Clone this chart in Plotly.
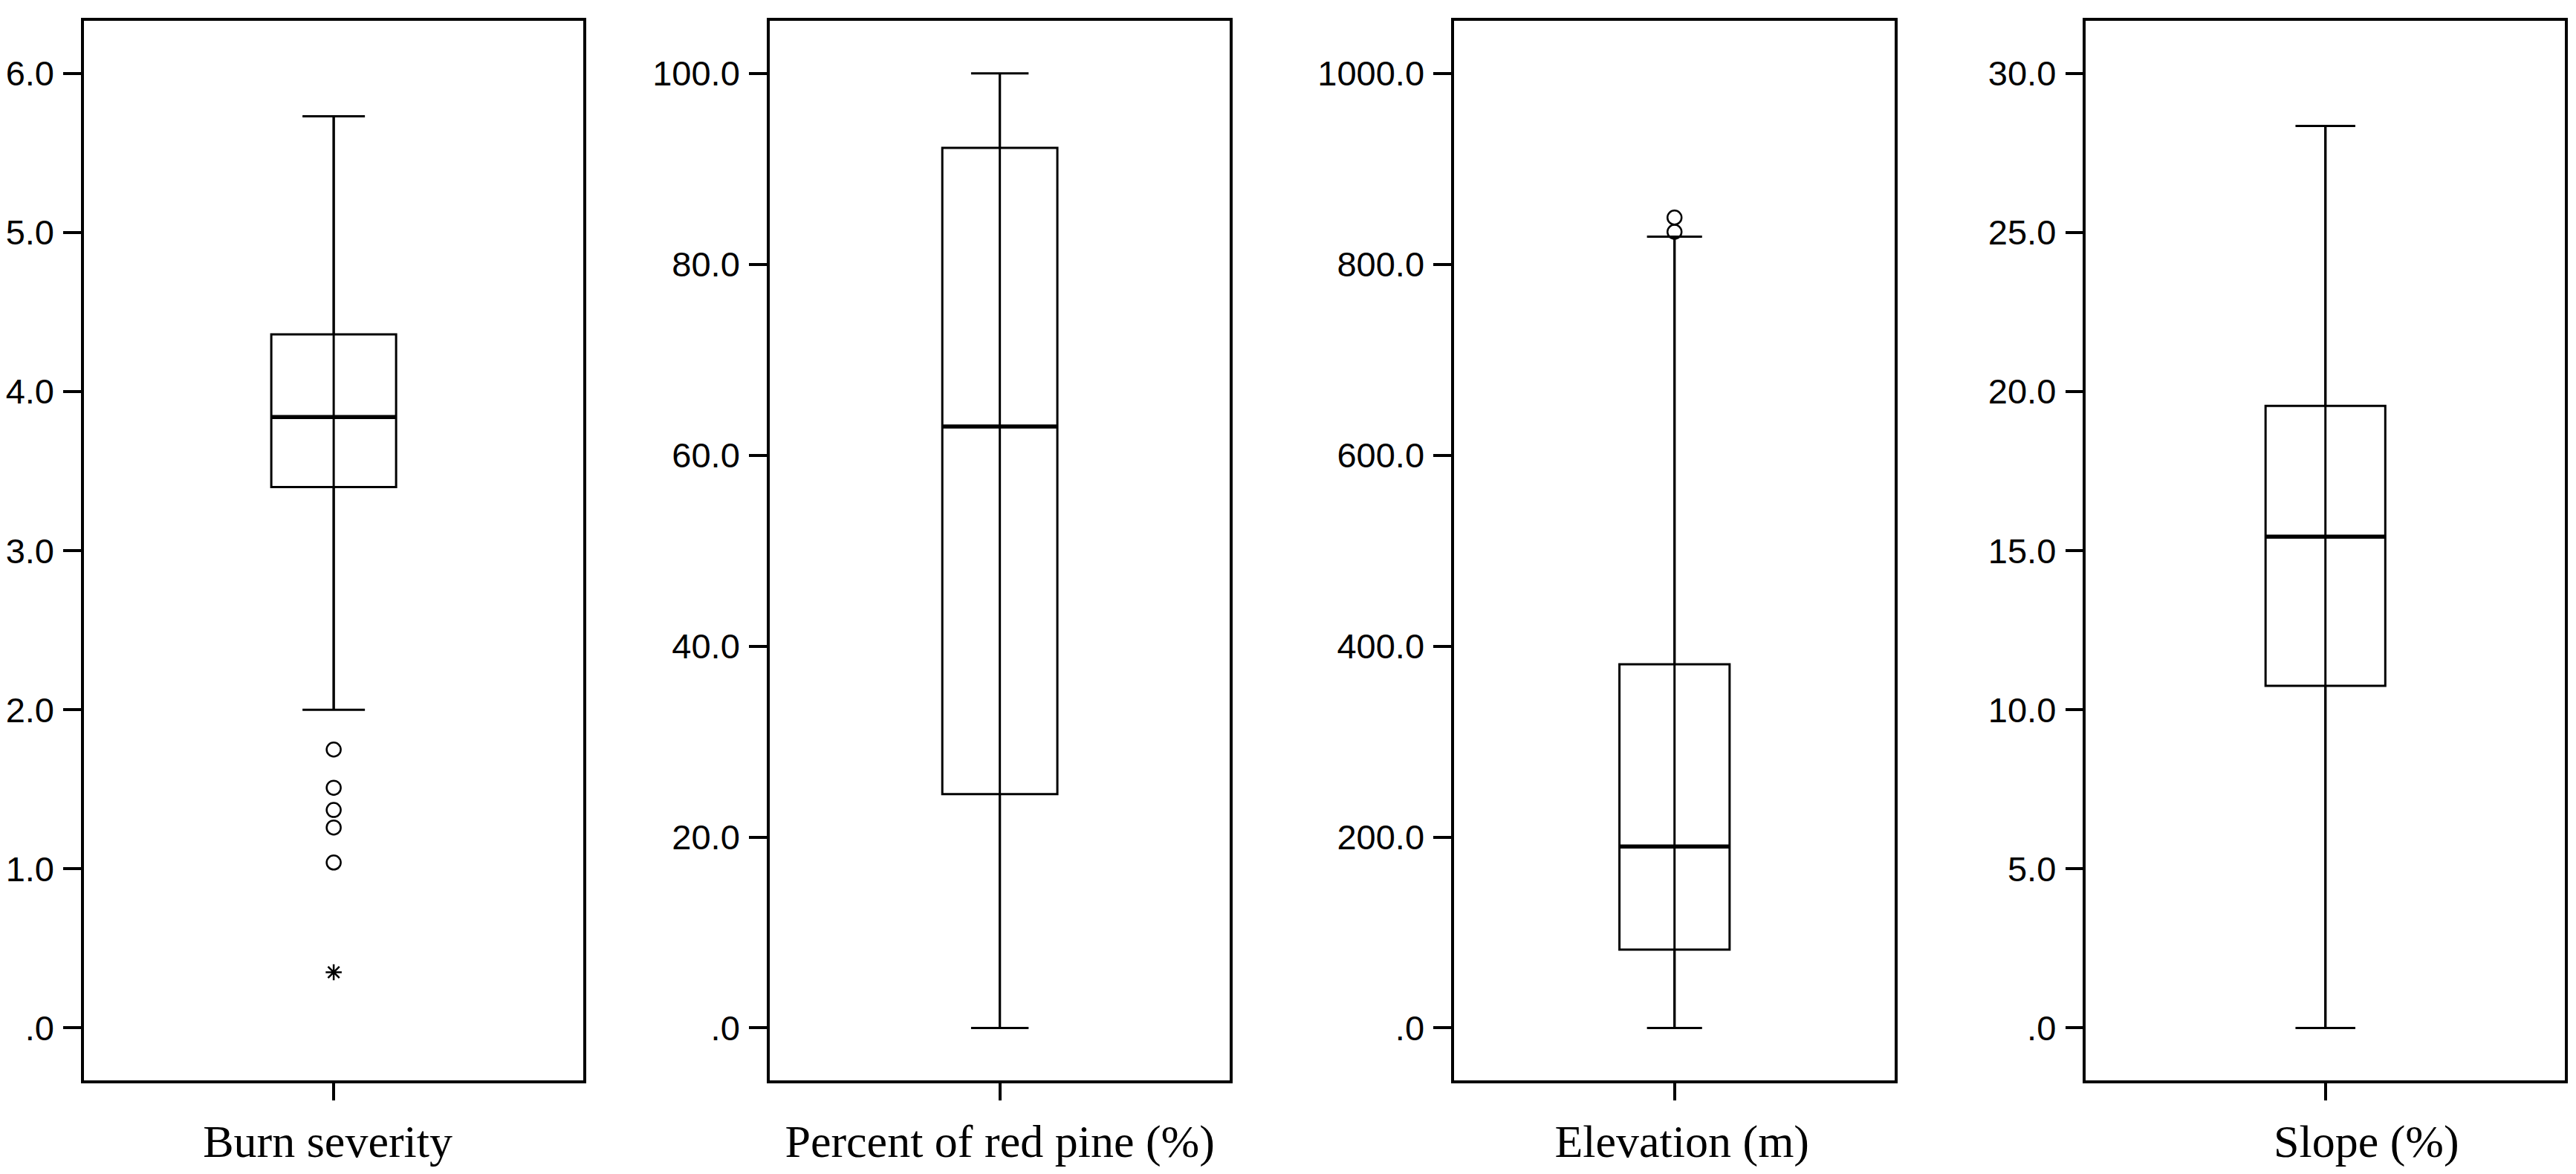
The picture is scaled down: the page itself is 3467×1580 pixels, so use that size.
import plotly.graph_objects as go

# ---- data ----
variables = ["Burn severity", "Percent of red pine (%)", "Elevation (m)", "Slope (%)"]
lower_whisker = [2.0, 0.0, 0.0, 0.0]
q1 = [3.40, 24.5, 82.0, 10.75]
median = [3.84, 63.0, 190.0, 15.44]
q3 = [4.36, 92.2, 381.0, 19.55]
upper_whisker = [5.73, 100.0, 829.0, 28.35]
outliers = [[1.75, 1.51, 1.37, 1.26, 1.04], [], [849.0, 834.0], []]
extremes = [[0.35], [], [], []]

tick_vals = [
    [0, 1, 2, 3, 4, 5, 6],
    [0, 20, 40, 60, 80, 100],
    [0, 200, 400, 600, 800, 1000],
    [0, 5, 10, 15, 20, 25, 30],
]
tick_text = [
    [".0", "1.0", "2.0", "3.0", "4.0", "5.0", "6.0"],
    [".0", "20.0", "40.0", "60.0", "80.0", "100.0"],
    [".0", "200.0", "400.0", "600.0", "800.0", "1000.0"],
    [".0", "5.0", "10.0", "15.0", "20.0", "25.0", "30.0"],
]

# ---- layout constants ----
W, H = 3451, 1564   # page is 3467x1580 incl. 8px body margin
DX = -4 / W
x_domains = [(0.02796 + DX, 0.22341 + DX), (0.29638 + DX, 0.47653 + DX),
             (0.56433 + DX, 0.73683 + DX), (0.81165 + DX, 0.99913 + DX)]
y_domain = (0.07545, 0.98708)
label_shift = [-8, 0, 10, 55]
BOX_W = 0.25
LINE = 3
AXLINE = 3.5

fig = go.Figure()
layout = dict(
    width=W, height=H,
    margin=dict(l=0, r=0, t=0, b=0),
    paper_bgcolor="white", plot_bgcolor="white",
    showlegend=False,
)

for i, name in enumerate(variables):
    n = "" if i == 0 else str(i + 1)
    xa, ya = "x" + n, "y" + n
    # whisker line running through the box
    fig.add_trace(go.Scatter(
        x=[name, name], y=[lower_whisker[i], upper_whisker[i]], mode="lines",
        line=dict(color="black", width=LINE),
        xaxis=xa, yaxis=ya, hoverinfo="skip",
    ))
    fig.add_trace(go.Box(
        x=[name], q1=[q1[i]], median=[median[i]], q3=[q3[i]],
        lowerfence=[lower_whisker[i]], upperfence=[upper_whisker[i]],
        width=BOX_W, whiskerwidth=0.5, boxpoints=False,
        fillcolor="rgba(255,255,255,0)", line=dict(color="black", width=LINE),
        xaxis=xa, yaxis=ya, hoverinfo="skip",
    ))
    # thicker median line
    px_w = BOX_W * (x_domains[i][1] - x_domains[i][0]) * W
    fig.add_trace(go.Scatter(
        x=[name], y=[median[i]], mode="markers",
        marker=dict(symbol="line-ew", size=px_w / 1.4, color="black",
                    line=dict(color="black", width=5.5)),
        xaxis=xa, yaxis=ya, hoverinfo="skip",
    ))
    if outliers[i]:
        fig.add_trace(go.Scatter(
            x=[name] * len(outliers[i]), y=outliers[i], mode="markers",
            marker=dict(symbol="circle-open", size=19, color="black",
                        line=dict(color="black", width=2.5)),
            xaxis=xa, yaxis=ya, hoverinfo="skip",
        ))
    if extremes[i]:
        fig.add_trace(go.Scatter(
            x=[name] * len(extremes[i]), y=extremes[i], mode="markers",
            marker=dict(symbol="asterisk-open", size=18, color="black",
                        line=dict(color="black", width=2.5)),
            xaxis=xa, yaxis=ya, hoverinfo="skip",
        ))

    top = tick_vals[i][-1]
    pad = 0.0549 * top
    layout["xaxis" + n] = dict(
        domain=list(x_domains[i]), anchor=ya, type="category",
        range=[-0.5, 0.5], tickvals=[name], ticktext=[name],
        ticks="outside", ticklen=23, tickwidth=4, tickcolor="black",
        showline=True, mirror=True, linecolor="black", linewidth=AXLINE,
        showgrid=False, zeroline=False, fixedrange=True,
        tickfont=dict(family="Liberation Serif", size=62, color="black"),
        ticklabelshift=label_shift[i], ticklabelstandoff=2,
    )
    layout["yaxis" + n] = dict(
        domain=list(y_domain), anchor=xa,
        range=[-pad, top + pad], tickvals=tick_vals[i], ticktext=tick_text[i],
        ticks="outside", ticklen=24, tickwidth=4, tickcolor="black",
        showline=True, mirror=True, linecolor="black", linewidth=AXLINE,
        showgrid=False, zeroline=False, fixedrange=True,
        tickfont=dict(family="Liberation Sans", size=47, color="black"),
        ticklabelstandoff=3,
    )

fig.update_layout(**layout)
fig.write_html("out.html")
